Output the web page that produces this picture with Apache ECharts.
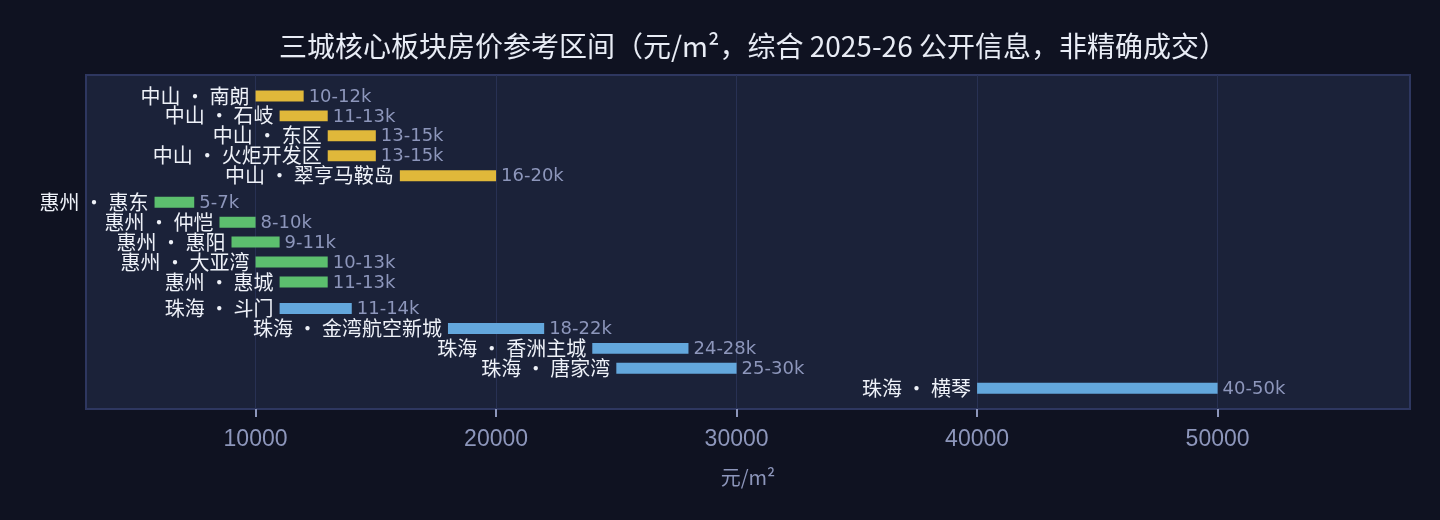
<!DOCTYPE html>
<html><head><meta charset="utf-8">
<script src="https://cdn.jsdelivr.net/npm/echarts@6/dist/echarts.min.js"></script>
<style>html,body{margin:0;padding:0;background:#0f1221;}#c{width:1440px;height:520px;}</style>
</head><body><div id="c"></div>
<script>
const cities = ['中山', '惠州', '珠海'];
const zhongshanNames = ['南朗', '石岐', '东区', '火炬开发区', '翠亨马鞍岛'];
const zhongshanLow = [10000, 11000, 13000, 13000, 16000];
const zhongshanHigh = [12000, 13000, 15000, 15000, 20000];
const zhongshanText = ['10-12k', '11-13k', '13-15k', '13-15k', '16-20k'];
const huizhouNames = ['惠东', '仲恺', '惠阳', '大亚湾', '惠城'];
const huizhouLow = [5800, 8500, 9000, 10000, 11000];
const huizhouHigh = [7450, 10000, 11000, 13000, 13000];
const huizhouText = ['5-7k', '8-10k', '9-11k', '10-13k', '11-13k'];
const zhuhaiNames = ['斗门', '金湾航空新城', '香洲主城', '唐家湾', '横琴'];
const zhuhaiLow = [11000, 18000, 24000, 25000, 40000];
const zhuhaiHigh = [14000, 22000, 28000, 30000, 50000];
const zhuhaiText = ['11-14k', '18-22k', '24-28k', '25-30k', '40-50k'];
const xTicks = [10000, 20000, 30000, 40000, 50000];

const groupNames = [zhongshanNames, huizhouNames, zhuhaiNames];
const groupLow = [zhongshanLow, huizhouLow, zhuhaiLow];
const groupHigh = [zhongshanHigh, huizhouHigh, zhuhaiHigh];
const groupText = [zhongshanText, huizhouText, zhuhaiText];
const colors = ['#e0b83a', '#5cbf6e', '#63a7dc'];
const GAP = 0.33;

const rows = [];
groupNames.forEach((names, g) => {
  names.forEach((n, i) => {
    rows.push({
      value: [groupLow[g][i], groupHigh[g][i], g * (names.length + GAP) + i],
      name: cities[g] + ' • ' + n,
      range: groupText[g][i],
      g: g
    });
  });
});

function renderItem(params, api) {
  const lo = api.value(0), hi = api.value(1), pos = api.value(2);
  const p0 = api.coord([lo, pos]);
  const p1 = api.coord([hi, pos]);
  const h = api.size([0, 0.55])[1];
  const d = rows[params.dataIndex];
  return {
    type: 'group',
    children: [
      { type: 'rect', shape: { x: p0[0], y: p0[1] - h / 2, width: p1[0] - p0[0], height: h }, style: { fill: colors[d.g] } },
      { type: 'text', style: { text: d.name, x: p0[0] - 6, y: p0[1], align: 'right', verticalAlign: 'middle', fill: '#eef1f8', font: '20px "Noto Sans CJK SC"' } },
      { type: 'text', style: { text: d.range, x: p1[0] + 5, y: p0[1] + 1, align: 'left', verticalAlign: 'middle', fill: '#8d96bb', font: '18px "DejaVu Sans", sans-serif' } }
    ]
  };
}

const chart = echarts.init(document.getElementById('c'));
chart.setOption({
  backgroundColor: '#0f1221',
  animation: false,
  title: {
    text: '三城核心板块房价参考区间（元/m²，综合 2025-26 公开信息，非精确成交）',
    left: 748, textAlign: 'center', top: 27,
    textStyle: { color: '#e8ecf5', fontSize: 28, fontWeight: 'normal', fontFamily: '"Noto Sans CJK SC"' }
  },
  grid: {
    left: 86, right: 30, top: 75, bottom: 111,
    show: true, backgroundColor: '#1b2239', borderColor: '#2e3760', borderWidth: 2
  },
  xAxis: {
    type: 'value', min: 2950, max: 58000,
    name: '元/m²', nameLocation: 'middle', nameGap: 58,
    nameTextStyle: { color: '#8d96bb', fontSize: 20, fontFamily: '"Noto Sans CJK SC"' },
    axisLine: { show: false, onZero: false },
    axisTick: { show: true, length: 8, customValues: xTicks, lineStyle: { color: '#8d96bb', width: 2 } },
    axisLabel: { customValues: xTicks, formatter: v => String(v), color: '#8d96bb', fontSize: 23, margin: 19, fontFamily: '"Liberation Sans", sans-serif' },
    splitLine: { show: true, lineStyle: { color: '#283153', width: 1 } }
  },
  yAxis: { type: 'value', inverse: true, min: -1.05, max: 15.7, show: false },
  series: [{
    type: 'custom',
    renderItem: renderItem,
    clip: false,
    encode: { x: [0, 1], y: 2 },
    data: rows.map(r => r.value)
  }]
});
</script></body></html>
